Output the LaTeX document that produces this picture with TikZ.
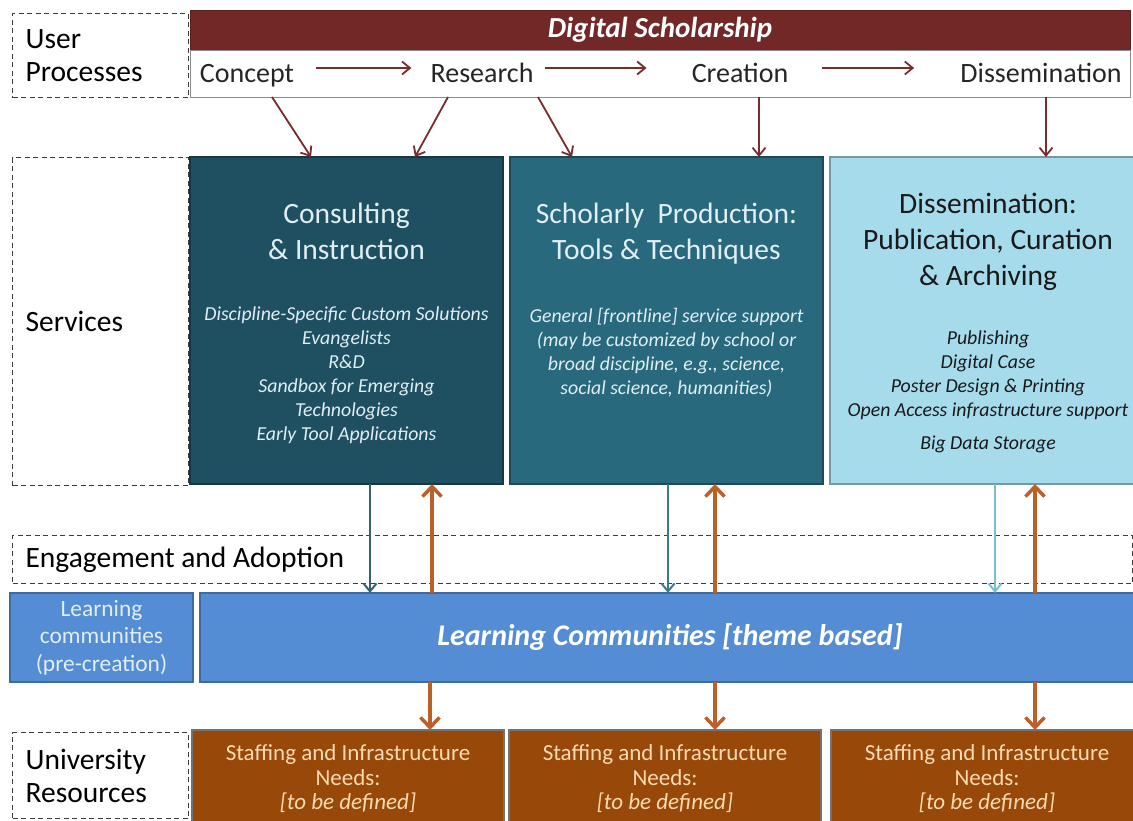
\documentclass[tikz,border=0pt]{standalone}
\usepackage{fontspec}
\setmainfont{Carlito}
\usepackage{tikz}
\usetikzlibrary{positioning,arrows.meta,calc}

\definecolor{scholred}{RGB}{114,40,38}
\definecolor{arrowred}{RGB}{122,44,44}
\definecolor{consultteal}{RGB}{31,80,98}
\definecolor{prodteal}{RGB}{40,105,126}
\definecolor{dissblue}{RGB}{166,219,236}
\definecolor{dissarrow}{RGB}{120,190,208}
\definecolor{commblue}{RGB}{84,141,212}
\definecolor{staffbrown}{RGB}{152,72,8}
\definecolor{staffarrow}{RGB}{186,96,40}
\definecolor{stafftext}{RGB}{252,218,178}
\definecolor{lighttext}{RGB}{225,238,243}
\definecolor{dashgray}{RGB}{60,60,60}

\begin{document}
\begin{tikzpicture}[
    x=1pt, y=-1pt,
    lanebox/.style={rectangle, draw=dashgray, dash pattern=on 5pt off 3.5pt, line width=1.2pt, inner xsep=13pt, inner ysep=0pt, text width=150pt, align=flush left, font=\fontsize{29.5}{33}\selectfont, anchor=north west},
    svcbox/.style={rectangle, draw=#1!70!black, line width=1.5pt, fill=#1, minimum width=313pt, minimum height=327pt, anchor=north west, inner sep=0pt, outer sep=0pt},
    svctitle/.style={anchor=north, inner sep=0pt, align=center, font=\fontsize{29.5}{36}\selectfont},
    svcitems/.style={anchor=north, inner sep=0pt, align=center, font=\fontsize{19.8}{24}\selectfont\itshape},
    stage/.style={inner sep=0pt, text height=20pt, text depth=6pt, font=\fontsize{28}{33}\selectfont, text=black!85},
    commbox/.style={rectangle, draw=commblue!75!black, line width=1.2pt, fill=commblue, minimum height=89pt, anchor=north west, align=center, outer sep=0pt},
    staffbox/.style={rectangle, draw=black!55, line width=1.2pt, fill=staffbrown, text=stafftext, minimum width=312pt, minimum height=98pt, anchor=north west, align=center, outer sep=0pt, font=\fontsize{23}{24.5}\selectfont},
    flowarrow/.style={-{Straight Barb[length=8pt,width=13pt]}, line width=1.8pt, draw=arrowred},
    downarrow/.style={-{Straight Barb[length=8pt,width=13pt]}, line width=2pt, draw=#1},
    feedarrow/.style={-{Straight Barb[length=10pt,width=19pt]}, line width=3.5pt, draw=staffarrow}
]
\useasboundingbox (0,0) rectangle (1133,821);
\fill[white] (0,0) rectangle (1133,821);

% Lane labels
\node[lanebox, minimum height=84pt] (userlane) at (12,13) {User\\Processes};
\node[lanebox, minimum height=328pt] (svclane) at (12,157) {Services};
\node[lanebox, minimum height=48pt, text width=1094pt] (engagelane) at (12,535) {Engagement and Adoption};
\node[lanebox, minimum height=86pt] (unilane) at (12,732) {University\\Resources};

% Digital scholarship bar
\node[draw=scholred!80!black, fill=scholred, minimum width=940pt, minimum height=40pt, anchor=north west, inner sep=0pt, outer sep=0pt, text=white, font=\fontsize{29}{34}\selectfont\bfseries\itshape] (scholbar) at (190,10) {Digital Scholarship};
\node[draw=black!45, fill=white, minimum width=940pt, minimum height=47pt, inner sep=0pt, outer sep=0pt, below=0pt of scholbar] (stagebar) {};

% Stages
\node[stage] (concept) at (247,76) {Concept};
\node[stage] (research) at (482,76) {Research};
\node[stage] (creation) at (740,76) {Creation};
\node[stage] (dissem) at (1041,76) {Dissemination};

\draw[flowarrow, shorten <=22pt, shorten >=19pt] ([yshift=8pt]concept.east) -- ([yshift=8pt]research.west);
\draw[flowarrow, shorten <=11pt, shorten >=45pt] ([yshift=8pt]research.east) -- ([yshift=8pt]creation.west);
\draw[flowarrow, shorten <=34pt, shorten >=46pt] ([yshift=8pt]creation.east) -- ([yshift=8pt]dissem.west);

% Services
\node[svcbox=consultteal] (consult) at (190,157) {};
\node[svcbox=prodteal, right=7pt of consult] (produce) {};
\node[svcbox=dissblue, right=7pt of produce, minimum width=316pt] (publish) {};

\node[svctitle, text=lighttext, below=46pt of consult.north] (consulttitle) {Consulting\\\& Instruction};
\node[svcitems, text=lighttext, below=150pt of consult.north] (consultitems) {Discipline-Specific Custom Solutions\\Evangelists\\R\&D\\Sandbox for Emerging\\Technologies\\Early Tool Applications};

\node[svctitle, text=lighttext, below=46pt of produce.north] (producetitle) {Scholarly\ \ Production:\\Tools \& Techniques};
\node[svcitems, text=lighttext, below=151pt of produce.north] (produceitems) {General [frontline] service support\\(may be customized by school or\\broad discipline, e.g., science,\\social science, humanities)};

\node[svctitle, text=black!90, below=36pt of publish.north] (publishtitle) {Dissemination:\\Publication, Curation\\\& Archiving};
\node[svcitems, text=black!90, below=174pt of publish.north] (publishitems) {Publishing\\Digital Case\\Poster Design \& Printing\\Open Access infrastructure support\\[9pt]Big Data Storage};

% Process to services
\draw[flowarrow] (stagebar.south -| 272,0) -- (consult.north -| 311,0);
\draw[flowarrow] (stagebar.south -| 448,0) -- (consult.north -| 415,0);
\draw[flowarrow] (stagebar.south -| 538,0) -- (produce.north -| 572,0);
\draw[flowarrow] (stagebar.south -| 759,0) -- (produce.north -| 759,0);
\draw[flowarrow] (stagebar.south -| 1046,0) -- (publish.north -| 1046,0);

% Learning communities
\node[commbox, minimum width=183pt, text=lighttext, font=\fontsize{23.4}{27.5}\selectfont] (precomm) at (10,593) {Learning\\communities\\(pre-creation)};
\node[commbox, minimum width=940pt, right=7pt of precomm, text=white, font=\fontsize{30}{36}\selectfont\bfseries\itshape] (themecomm) {Learning Communities [theme based]};

\draw[downarrow=consultteal!90!white] (consult.south -| 370,0) -- (themecomm.north -| 370,0);
\draw[feedarrow] (themecomm.north -| 432,0) -- (consult.south -| 432,0);
\draw[downarrow=prodteal!90!white] (produce.south -| 668,0) -- (themecomm.north -| 668,0);
\draw[feedarrow] (themecomm.north -| 715,0) -- (produce.south -| 715,0);
\draw[downarrow=dissarrow] (publish.south -| 995,0) -- (themecomm.north -| 995,0);
\draw[feedarrow] (themecomm.north -| 1035,0) -- (publish.south -| 1035,0);

% University resources
\node[staffbox] (staffa) at (192,730) {Staffing and Infrastructure\\Needs:\\\textit{[to be defined]}};
\node[staffbox, right=5pt of staffa] (staffb) {Staffing and Infrastructure\\Needs:\\\textit{[to be defined]}};
\node[staffbox, right=10pt of staffb] (staffc) {Staffing and Infrastructure\\Needs:\\\textit{[to be defined]}};

\draw[feedarrow] (themecomm.south -| 430,0) -- (staffa.north -| 430,0);
\draw[feedarrow] (themecomm.south -| 715,0) -- (staffb.north -| 715,0);
\draw[feedarrow] (themecomm.south -| 1035,0) -- (staffc.north -| 1035,0);

\end{tikzpicture}
\end{document}
